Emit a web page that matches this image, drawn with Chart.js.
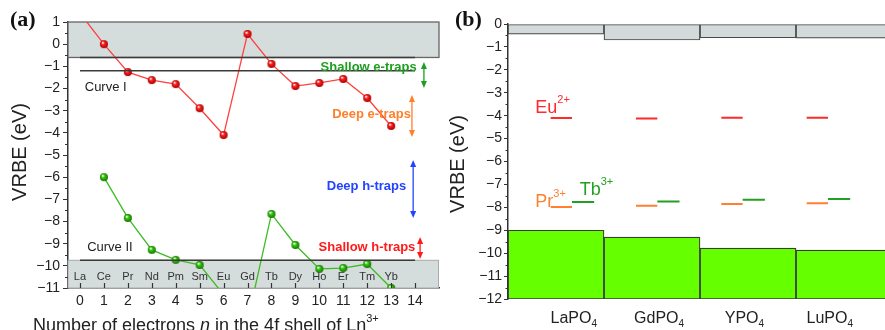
<!DOCTYPE html>
<html>
<head>
<meta charset="utf-8">
<script src="https://cdn.jsdelivr.net/npm/chart.js@4.4.1/dist/chart.umd.min.js"></script>
<style>
    html, body { margin: 0; padding: 0; background: #fff; width: 885px; height: 330px; overflow: hidden; }
    #graficaA { position: absolute; left: 0; top: 0; }
    #graficaB { position: absolute; left: 445px; top: 0; }
</style>
</head>
<body>
<canvas id="graficaA" width="445" height="330"></canvas>
<canvas id="graficaB" width="447" height="330"></canvas>
<script>
// ---- datos panel (a) ----
const electrones = [0, 1, 2, 3, 4, 5, 6, 7, 8, 9, 10, 11, 12, 13];
const elementos = ['La', 'Ce', 'Pr', 'Nd', 'Pm', 'Sm', 'Eu', 'Gd', 'Tb', 'Dy', 'Ho', 'Er', 'Tm', 'Yb'];
const curvaI = [1.4, 0.0, -1.26, -1.62, -1.8, -2.89, -4.1, 0.46, -0.89, -1.89, -1.75, -1.57, -2.43, -3.69];
const curvaII = [null, -6.0, -7.84, -9.28, -9.73, -9.96, -11.3, -12.5, -7.66, -9.06, -10.14, -10.1, -9.92, -11.0];
const limitesH = [-0.6, -1.2, -9.75];
const bandaConduccionA = [1, -0.6];
const bandaValenciaA = [-9.75, -11];
const ticksX = [0, 1, 2, 3, 4, 5, 6, 7, 8, 9, 10, 11, 12, 13, 14];

// ---- datos panel (b) ----
const compuestos = ['LaPO', 'GdPO', 'YPO', 'LuPO'];
const fondoBC = [-0.44, -0.7, -0.6, -0.62];
const topeBV = [-9.0, -9.3, -9.78, -9.87];
const nivelEu = [-4.1, -4.12, -4.09, -4.09];
const nivelPr = [-7.98, -7.93, -7.85, -7.82];
const nivelTb = [-7.77, -7.74, -7.67, -7.64];

const FUENTE = '"Liberation Sans", Arial, sans-serif';
const menos = v => String(v).replace('-', '\u2212');

// esfera con brillo para los puntos
function esfera(color, oscuro, r) {
    const c = document.createElement('canvas');
    const s = r * 2 + 2;
    c.width = s; c.height = s;
    const g = c.getContext('2d');
    const grad = g.createRadialGradient(s / 2 - r * 0.35, s / 2 - r * 0.4, r * 0.1, s / 2, s / 2, r);
    grad.addColorStop(0, '#ffffff');
    grad.addColorStop(0.35, color);
    grad.addColorStop(1, oscuro);
    g.fillStyle = grad;
    g.beginPath();
    g.arc(s / 2, s / 2, r, 0, Math.PI * 2);
    g.fill();
    return c;
}

function textoCompuesto(ctx, x, y, partes) {
    partes.forEach(p => {
        ctx.font = p.font;
        ctx.fillText(p.t, x, y + (p.dy || 0));
        x += ctx.measureText(p.t).width;
    });
}

function flecha(ctx, x, y1, y2, color) {
    ctx.strokeStyle = color;
    ctx.fillStyle = color;
    ctx.lineWidth = 1.3;
    ctx.beginPath();
    ctx.moveTo(x, y1 + 4);
    ctx.lineTo(x, y2 - 4);
    ctx.stroke();
    ctx.beginPath();
    ctx.moveTo(x, y1); ctx.lineTo(x - 3, y1 + 7); ctx.lineTo(x + 3, y1 + 7); ctx.closePath();
    ctx.fill();
    ctx.beginPath();
    ctx.moveTo(x, y2); ctx.lineTo(x - 3, y2 - 7); ctx.lineTo(x + 3, y2 - 7); ctx.closePath();
    ctx.fill();
}

function ticksMenores(ctx, escala, x, largo, desde, hasta) {
    ctx.strokeStyle = '#333';
    ctx.lineWidth = 1;
    for (let v = desde; v <= hasta; v += 1) {
        const py = Math.round(escala.getPixelForValue(v)) + 0.5;
        ctx.beginPath();
        ctx.moveTo(x - largo, py);
        ctx.lineTo(x, py);
        ctx.stroke();
    }
}

// anotaciones del panel (a)
const notasTrampas = [
    { t: 'Shallow e-traps', color: '#1f9f1f', n: 12.06, v: -1.03, fx: 14.37, f1: -0.8, f2: -1.98 },
    { t: 'Deep e-traps', color: '#ff7f2a', n: 12.18, v: -3.15, fx: 13.87, f1: -2.29, f2: -4.19 },
    { t: 'Deep h-traps', color: '#2244ff', n: 11.97, v: -6.44, fx: 13.92, f1: -5.22, f2: -7.84 },
    { t: 'Shallow h-traps', color: '#ff1a1a', n: 11.99, v: -9.15, fx: 14.21, f1: -8.7, f2: -9.69 }
];

const decoradoA = {
    id: 'decoradoA',
    beforeDatasetsDraw(chart) {
        const { ctx, chartArea: ca, scales: { x, y } } = chart;
        ctx.save();
        // bandas grises
        ctx.fillStyle = '#d5dcdc';
        const yc0 = y.getPixelForValue(bandaConduccionA[0]), yc1 = y.getPixelForValue(bandaConduccionA[1]);
        ctx.fillRect(ca.left, yc0, ca.right - ca.left, yc1 - yc0);
        ctx.strokeStyle = '#666'; ctx.lineWidth = 1.3;
        ctx.strokeRect(ca.left, yc0, ca.right - ca.left, yc1 - yc0);
        const yv0 = y.getPixelForValue(bandaValenciaA[0]), yv1 = y.getPixelForValue(bandaValenciaA[1]);
        ctx.fillRect(ca.left, yv0, ca.right - ca.left, yv1 - yv0);
        ctx.strokeStyle = '#aaa'; ctx.lineWidth = 1;
        ctx.strokeRect(ca.left, yv0, ca.right - ca.left - 0.5, yv1 - yv0);
        // nombres de los elementos
        ctx.fillStyle = '#333';
        ctx.font = '11px ' + FUENTE;
        ctx.textAlign = 'center';
        ctx.textBaseline = 'middle';
        elementos.forEach((e, i) => ctx.fillText(e, x.getPixelForValue(electrones[i]), y.getPixelForValue(-10.5)));
        ctx.restore();
    },
    afterDraw(chart) {
        const { ctx, chartArea: ca, scales: { x, y } } = chart;
        ctx.save();
        // ticks hacia dentro del eje x
        ctx.strokeStyle = '#333'; ctx.lineWidth = 1.2;
        ticksX.forEach(v => {
            const px = Math.round(x.getPixelForValue(v)) + 0.5;
            ctx.beginPath(); ctx.moveTo(px, ca.bottom); ctx.lineTo(px, ca.bottom - 5); ctx.stroke();
        });
        ticksMenores(ctx, y, ca.left, 3, -10.5, 0.5);

        ctx.fillStyle = '#222';
        ctx.textBaseline = 'middle';
        ctx.textAlign = 'left';
        ctx.font = '13px ' + FUENTE;
        ctx.fillText('Curve I', x.getPixelForValue(0.2), y.getPixelForValue(-1.93));
        ctx.fillText('Curve II', x.getPixelForValue(0.3), y.getPixelForValue(-9.19));

        ctx.textAlign = 'center';
        ctx.font = 'bold 13px ' + FUENTE;
        notasTrampas.forEach(a => {
            ctx.fillStyle = a.color;
            ctx.fillText(a.t, x.getPixelForValue(a.n), y.getPixelForValue(a.v));
            flecha(ctx, x.getPixelForValue(a.fx), y.getPixelForValue(a.f1), y.getPixelForValue(a.f2), a.color);
        });

        // titulos
        ctx.fillStyle = '#222';
        ctx.textBaseline = 'alphabetic';
        ctx.textAlign = 'left';
        textoCompuesto(ctx, 33, 331, [
            { t: 'Number of electrons ', font: '18px ' + FUENTE },
            { t: 'n', font: 'italic 18px ' + FUENTE },
            { t: ' in the 4f shell of Ln', font: '18px ' + FUENTE },
            { t: '3+', font: '11px ' + FUENTE, dy: -9 }
        ]);
        ctx.save();
        ctx.translate(20, 152);
        ctx.rotate(-Math.PI / 2);
        ctx.textAlign = 'center';
        ctx.textBaseline = 'middle';
        ctx.font = '20px ' + FUENTE;
        ctx.fillText('VRBE (eV)', 0, 0);
        ctx.restore();
        ctx.fillStyle = '#111';
        ctx.font = 'bold 22px "Liberation Serif", "Times New Roman", serif';
        ctx.fillText('(a)', 10, 26);
        ctx.restore();
    }
};

new Chart(document.getElementById('graficaA'), {
    type: 'line',
    data: {
        datasets: [
            ...limitesH.map(v => ({
                data: [{ x: 0, y: v }, { x: 14, y: v }],
                borderColor: '#3a3a3a', borderWidth: 1.5, pointRadius: 0
            })),
            {
                label: 'Curve I',
                data: electrones.map((n, i) => ({ x: n, y: curvaI[i] })),
                borderColor: '#ff4040', borderWidth: 1.3,
                pointStyle: esfera('#ff2020', '#a80000', 4), pointRadius: 4
            },
            {
                label: 'Curve II',
                data: electrones.map((n, i) => ({ x: n, y: curvaII[i] })),
                borderColor: '#3cbc22', borderWidth: 1.3,
                pointStyle: esfera('#33cc11', '#1a7000', 4), pointRadius: 4
            }
        ]
    },
    options: {
        responsive: false,
        animation: false,
        layout: { padding: { top: 22, right: 6, left: 0, bottom: 0 } },
        plugins: { legend: { display: false }, tooltip: { enabled: false } },
        scales: {
            x: {
                type: 'linear', min: -0.5, max: 15,
                afterBuildTicks: s => { s.ticks = ticksX.map(v => ({ value: v })); },
                afterFit: s => { s.height = 42; },
                grid: { display: false, drawTicks: false },
                border: { display: true, color: '#333', width: 1.5 },
                ticks: { color: '#222', font: { size: 14, family: FUENTE }, padding: 5, maxRotation: 0, autoSkip: false }
            },
            y: {
                min: -11, max: 1,
                afterFit: s => { s.width = 68; },
                grid: { display: true, drawOnChartArea: false, drawTicks: true, tickLength: 5, color: '#333' },
                border: { display: true, color: '#333', width: 1.5 },
                ticks: { stepSize: 1, color: '#222', font: { size: 14, family: FUENTE }, padding: 3, callback: menos }
            }
        }
    },
    plugins: [decoradoA]
});

// ---- panel (b) ----
function niveles(valores, desde, hasta) {
    return valores.flatMap((v, i) => [
        { x: i + desde, y: v }, { x: i + hasta, y: v }, { x: i + hasta + 0.05, y: null }
    ]);
}

const decoradoB = {
    id: 'decoradoB',
    afterDraw(chart) {
        const { ctx, chartArea: ca, scales: { xl, y } } = chart;
        ctx.save();
        ticksMenores(ctx, y, ca.left, 2.5, -11.5, -0.5);
        ctx.fillStyle = '#222';
        ctx.textAlign = 'left';
        ctx.textBaseline = 'alphabetic';
        compuestos.forEach((c, i) => {
            ctx.font = '16px ' + FUENTE;
            const w = ctx.measureText(c).width;
            const px = xl.getPixelForValue(i) - w / 2 - 1;
            textoCompuesto(ctx, px, 323, [
                { t: c, font: '16px ' + FUENTE },
                { t: '4', font: '10px ' + FUENTE, dy: 4 }
            ]);
        });
        ctx.fillStyle = '#ff2a2a';
        textoCompuesto(ctx, xl.getPixelForValue(-0.43), y.getPixelForValue(-3.89), [
            { t: 'Eu', font: '18px ' + FUENTE }, { t: '2+', font: '11px ' + FUENTE, dy: -10 }
        ]);
        ctx.fillStyle = '#ff8030';
        textoCompuesto(ctx, xl.getPixelForValue(-0.43), y.getPixelForValue(-7.99), [
            { t: 'Pr', font: '18px ' + FUENTE }, { t: '3+', font: '11px ' + FUENTE, dy: -10 }
        ]);
        ctx.fillStyle = '#22a022';
        textoCompuesto(ctx, xl.getPixelForValue(0.09), y.getPixelForValue(-7.47), [
            { t: 'Tb', font: '18px ' + FUENTE }, { t: '3+', font: '11px ' + FUENTE, dy: -10 }
        ]);

        ctx.fillStyle = '#222';
        ctx.save();
        ctx.translate(13, 164);
        ctx.rotate(-Math.PI / 2);
        ctx.textAlign = 'center';
        ctx.textBaseline = 'middle';
        ctx.font = '20px ' + FUENTE;
        ctx.fillText('VRBE (eV)', 0, 0);
        ctx.restore();
        ctx.fillStyle = '#111';
        ctx.font = 'bold 22px "Liberation Serif", "Times New Roman", serif';
        ctx.fillText('(b)', 10, 26);
        ctx.restore();
    }
};

new Chart(document.getElementById('graficaB'), {
    type: 'bar',
    data: {
        labels: compuestos,
        datasets: [
            {
                data: compuestos.map((c, i) => [0, fondoBC[i]]),
                backgroundColor: '#d2dada', borderColor: '#4a4a4a', borderWidth: 1.2,
                borderSkipped: false, categoryPercentage: 1, barPercentage: 1, grouped: false
            },
            {
                data: compuestos.map((c, i) => [topeBV[i], -12]),
                backgroundColor: '#66ff00', borderColor: '#3a3a3a', borderWidth: 1.2,
                borderSkipped: false, categoryPercentage: 1, barPercentage: 1, grouped: false
            },
            { type: 'line', xAxisID: 'xl', data: niveles(nivelEu, -0.25, 0), borderColor: '#ff2a2a', borderWidth: 2, pointRadius: 0, spanGaps: false },
            { type: 'line', xAxisID: 'xl', data: niveles(nivelPr, -0.25, 0), borderColor: '#ff8030', borderWidth: 2, pointRadius: 0, spanGaps: false },
            { type: 'line', xAxisID: 'xl', data: niveles(nivelTb, 0, 0.26), borderColor: '#22a022', borderWidth: 2, pointRadius: 0, spanGaps: false }
        ]
    },
    options: {
        responsive: false,
        animation: false,
        layout: { padding: { top: 24, right: 0, left: 0, bottom: 0 } },
        plugins: { legend: { display: false }, tooltip: { enabled: false } },
        scales: {
            x: {
                type: 'category', offset: true,
                afterFit: s => { s.height = 31; },
                grid: { display: false, drawTicks: false },
                border: { display: false },
                ticks: { display: false }
            },
            xl: { type: 'linear', min: -0.5, max: 3.5, display: false },
            y: {
                min: -12, max: 0,
                afterFit: s => { s.width = 63; },
                grid: { display: true, drawOnChartArea: false, drawTicks: true, tickLength: 4, color: '#333' },
                border: { display: true, color: '#333', width: 1.5 },
                ticks: { stepSize: 1, color: '#222', font: { size: 14, family: FUENTE }, padding: 2, callback: menos }
            }
        }
    },
    plugins: [decoradoB]
});
</script>
</body>
</html>
